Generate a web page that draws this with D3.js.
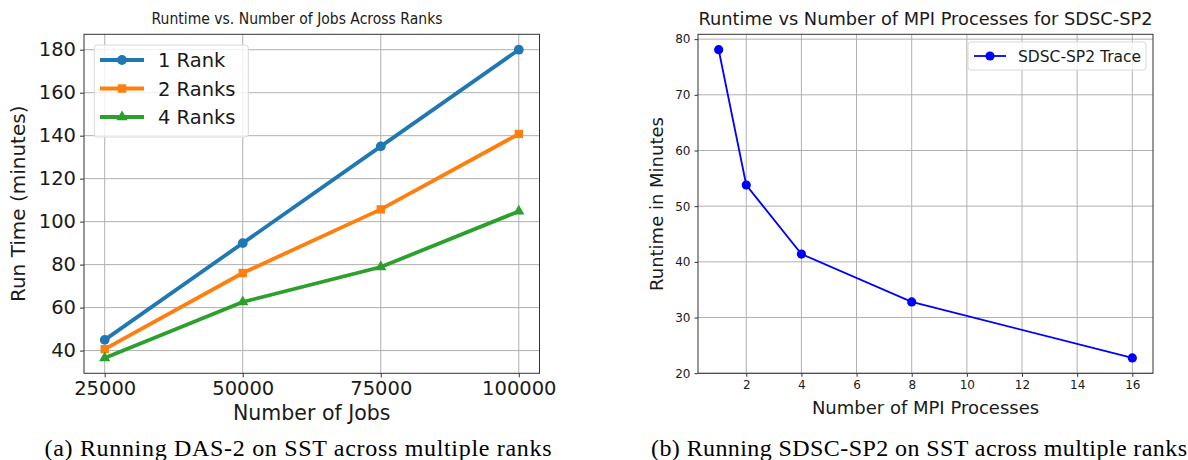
<!DOCTYPE html>
<html><head><meta charset="utf-8">
<script src="https://cdn.jsdelivr.net/npm/d3@7"></script>
<style>
html,body{margin:0;padding:0;background:#fff;}
svg{display:block;}
</style></head>
<body><svg id="c" width="1188" height="460"></svg>
<script>
// ---- Data: chart (a)
const jobs = [25000, 50000, 75000, 100000];
const rank1 = [45, 90, 135, 180];
const rank2 = [40.7, 76.1, 105.7, 140.8];
const rank4 = [36.6, 62.6, 78.9, 104.8];
const seriesNamesA = ["1 Rank", "2 Ranks", "4 Ranks"];
const xTicksA = [25000, 50000, 75000, 100000];
const yTicksA = [40, 60, 80, 100, 120, 140, 160, 180];
// ---- Data: chart (b)
const procs = [1, 2, 4, 8, 16];
const runtimeB = [78.1, 53.8, 41.4, 32.8, 22.75];
const xTicksB = [2, 4, 6, 8, 10, 12, 14, 16];
const yTicksB = [20, 30, 40, 50, 60, 70, 80];

const svg = d3.select("#c");
const sans = "'DejaVu Sans', sans-serif";
const serif = "'Liberation Serif', 'Times New Roman', serif";

function pad(ext){const r=ext[1]-ext[0];return [ext[0]-0.05*r, ext[1]+0.05*r];}

// ================= Chart A =================
(function(){
  const L=84,R=539.5,T=34.3,B=373.3;
  const allY = rank1.concat(rank2, rank4);
  const x = d3.scaleLinear().domain(pad(d3.extent(jobs))).range([L,R]);
  const y = d3.scaleLinear().domain(pad(d3.extent(allY))).range([B,T]);
  const g = svg.append("g");
  g.append("g").selectAll("line").data(xTicksA).join("line")
    .attr("x1",d=>x(d)).attr("x2",d=>x(d)).attr("y1",T).attr("y2",B)
    .attr("stroke","#b0b0b0").attr("stroke-width",1);
  g.append("g").selectAll("line").data(yTicksA).join("line")
    .attr("y1",d=>y(d)).attr("y2",d=>y(d)).attr("x1",L).attr("x2",R)
    .attr("stroke","#b0b0b0").attr("stroke-width",1);
  const xa = g.append("g").attr("transform",`translate(0,${B})`)
    .call(d3.axisBottom(x).tickValues(xTicksA).tickFormat(d3.format("d")).tickSize(4).tickPadding(4));
  const ya = g.append("g").attr("transform",`translate(${L},0)`)
    .call(d3.axisLeft(y).tickValues(yTicksA).tickSize(4).tickPadding(4));
  [xa,ya].forEach(a=>{
    a.select(".domain").remove();
    a.selectAll("line").attr("stroke","#333");
    a.selectAll("text").attr("font-family",sans).attr("font-size",19.5).attr("fill","#1a1a1a");
  });
  g.append("rect").attr("x",L).attr("y",T).attr("width",R-L).attr("height",B-T)
    .attr("fill","none").attr("stroke","#333").attr("stroke-width",1);
  const colors=["#1f77b4","#ff7f0e","#2ca02c"];
  const data=[rank1,rank2,rank4];
  const line=d3.line().x((d,i)=>x(jobs[i])).y(d=>y(d));
  const sym=[d3.symbolCircle,d3.symbolSquare,d3.symbolTriangle];
  const symSize=[75,70,55];
  data.forEach((s,k)=>{
    g.append("path").datum(s).attr("d",line).attr("fill","none")
      .attr("stroke",colors[k]).attr("stroke-width",3.8).attr("stroke-linejoin","round");
    g.append("g").selectAll("path").data(s).join("path")
      .attr("d",d3.symbol().type(sym[k]).size(symSize[k]))
      .attr("transform",(d,i)=>`translate(${x(jobs[i])},${y(d)})`)
      .attr("fill",colors[k]);
  });
  const lg=g.append("g");
  lg.append("rect").attr("x",94.3).attr("y",45).attr("width",154).attr("height",92)
    .attr("rx",3).attr("fill","#fff").attr("fill-opacity",0.8).attr("stroke","#d9d9d9").attr("stroke-width",1);
  seriesNamesA.forEach((n,k)=>{
    const yy=60+k*28.5;
    lg.append("line").attr("x1",100).attr("x2",144).attr("y1",yy).attr("y2",yy)
      .attr("stroke",colors[k]).attr("stroke-width",3.8);
    lg.append("path").attr("d",d3.symbol().type(sym[k]).size(symSize[k]))
      .attr("transform",`translate(122,${yy})`).attr("fill",colors[k]);
    lg.append("text").attr("x",158).attr("y",yy+7).text(n)
      .attr("font-family",sans).attr("font-size",19.5).attr("fill","#1a1a1a");
  });
  g.append("text").attr("x",297).attr("y",24).attr("text-anchor","middle")
    .attr("font-family",sans).attr("font-size",15).attr("fill","#1a1a1a")
    .attr("textLength",291).attr("lengthAdjust","spacingAndGlyphs")
    .text("Runtime vs. Number of Jobs Across Ranks");
  g.append("text").attr("x",(L+R)/2).attr("y",420).attr("text-anchor","middle")
    .attr("font-family",sans).attr("font-size",20.5).attr("fill","#1a1a1a")
    .text("Number of Jobs");
  g.append("text").attr("transform",`translate(25,${(T+B)/2}) rotate(-90)`).attr("text-anchor","middle")
    .attr("font-family",sans).attr("font-size",20).attr("fill","#1a1a1a")
    .text("Run Time (minutes)");
  g.append("text").attr("x",298).attr("y",456).attr("text-anchor","middle")
    .attr("font-family",serif).attr("font-size",24).attr("fill","#000")
    .attr("textLength",507).attr("lengthAdjust","spacing")
    .text("(a) Running DAS-2 on SST across multiple ranks");
})();

// ================= Chart B =================
(function(){
  const L=698,R=1153,T=34.3,B=373.3;
  const x = d3.scaleLinear().domain(pad(d3.extent(procs))).range([L,R]);
  const y = d3.scaleLinear().domain(pad(d3.extent(runtimeB))).range([B,T]);
  const g = svg.append("g");
  g.append("g").selectAll("line").data(xTicksB).join("line")
    .attr("x1",d=>x(d)).attr("x2",d=>x(d)).attr("y1",T).attr("y2",B)
    .attr("stroke","#b0b0b0").attr("stroke-width",1);
  g.append("g").selectAll("line").data(yTicksB).join("line")
    .attr("y1",d=>y(d)).attr("y2",d=>y(d)).attr("x1",L).attr("x2",R)
    .attr("stroke","#b0b0b0").attr("stroke-width",1);
  const xa = g.append("g").attr("transform",`translate(0,${B})`)
    .call(d3.axisBottom(x).tickValues(xTicksB).tickSize(3.5).tickPadding(4));
  const ya = g.append("g").attr("transform",`translate(${L},0)`)
    .call(d3.axisLeft(y).tickValues(yTicksB).tickSize(3.5).tickPadding(4));
  [xa,ya].forEach(a=>{
    a.select(".domain").remove();
    a.selectAll("line").attr("stroke","#333");
    a.selectAll("text").attr("font-family",sans).attr("font-size",12).attr("fill","#1a1a1a");
  });
  g.append("rect").attr("x",L).attr("y",T).attr("width",R-L).attr("height",B-T)
    .attr("fill","none").attr("stroke","#333").attr("stroke-width",1);
  const line=d3.line().x((d,i)=>x(procs[i])).y(d=>y(d));
  g.append("path").datum(runtimeB).attr("d",line).attr("fill","none")
    .attr("stroke","#0000ff").attr("stroke-width",1.8);
  g.append("g").selectAll("circle").data(runtimeB).join("circle")
    .attr("cx",(d,i)=>x(procs[i])).attr("cy",d=>y(d)).attr("r",4.6).attr("fill","#0000ff");
  const lg=g.append("g");
  lg.append("rect").attr("x",968).attr("y",42).attr("width",178).attr("height",28)
    .attr("rx",3).attr("fill","#fff").attr("fill-opacity",0.8).attr("stroke","#d9d9d9").attr("stroke-width",1);
  lg.append("line").attr("x1",974).attr("x2",1006).attr("y1",56).attr("y2",56)
    .attr("stroke","#0000ff").attr("stroke-width",1.8);
  lg.append("circle").attr("cx",990).attr("cy",56).attr("r",4.6).attr("fill","#0000ff");
  lg.append("text").attr("x",1018).attr("y",61.5).text("SDSC-SP2 Trace")
    .attr("font-family",sans).attr("font-size",15.5).attr("fill","#1a1a1a");
  g.append("text").attr("x",(L+R)/2).attr("y",25).attr("text-anchor","middle")
    .attr("font-family",sans).attr("font-size",17.8).attr("fill","#1a1a1a")
    .text("Runtime vs Number of MPI Processes for SDSC-SP2");
  g.append("text").attr("x",(L+R)/2).attr("y",414).attr("text-anchor","middle")
    .attr("font-family",sans).attr("font-size",18).attr("fill","#1a1a1a")
    .text("Number of MPI Processes");
  g.append("text").attr("transform",`translate(663,204) rotate(-90)`).attr("text-anchor","middle")
    .attr("font-family",sans).attr("font-size",18).attr("fill","#1a1a1a")
    .text("Runtime in Minutes");
  g.append("text").attr("x",919).attr("y",456).attr("text-anchor","middle")
    .attr("font-family",serif).attr("font-size",24).attr("fill","#000")
    .attr("textLength",536).attr("lengthAdjust","spacing")
    .text("(b) Running SDSC-SP2 on SST across multiple ranks");
})();
</script></body></html>
